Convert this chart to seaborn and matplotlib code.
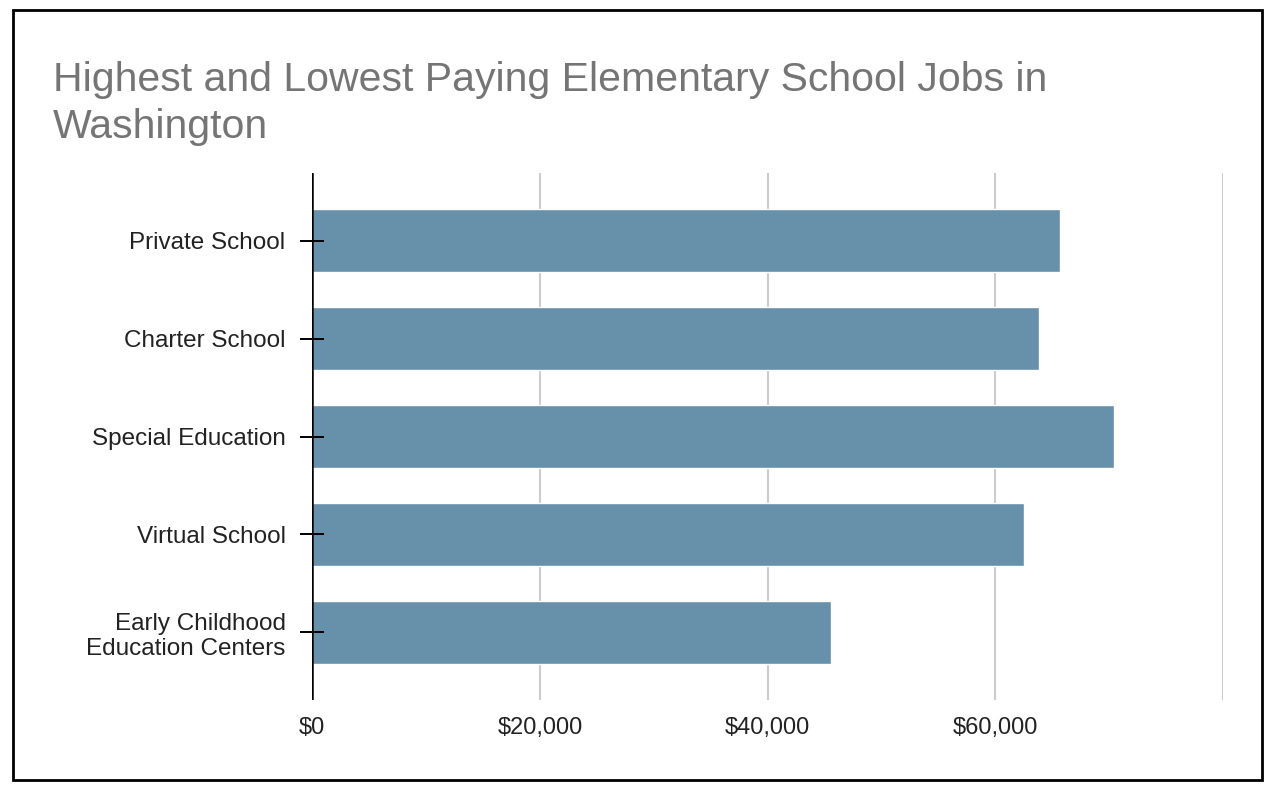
import matplotlib
matplotlib.use("Agg")
import matplotlib.pyplot as plt
from matplotlib.patches import Rectangle
from matplotlib.ticker import FixedLocator
import seaborn as sns
import pandas as pd

categories = ["Private School", "Charter School", "Special Education",
              "Virtual School", "Early Childhood\nEducation Centers"]
salaries = [65700, 63850, 70450, 62550, 45600]
xticks = [0, 20000, 40000, 60000, 80000]
xtick_labels = ["$0", "$20,000", "$40,000", "$60,000", ""]
title = "Highest and Lowest Paying Elementary School Jobs in\nWashington"

sns.set_theme(style="white")
plt.rcParams["font.family"] = ["Liberation Sans", "DejaVu Sans"]

df = pd.DataFrame({"category": categories, "salary": salaries})

fig = plt.figure(figsize=(12.72, 7.92), dpi=100)
ax = fig.add_axes([312.3 / 1272, 1 - 700 / 792, (1223 - 312.3) / 1272, (700 - 173) / 792])

sns.barplot(data=df, x="salary", y="category", orient="h", color="#6790ab",
            width=0.65, saturation=1, ax=ax, zorder=3)

ax.set_xlim(0, 80000)
ax.set_ylim(4.69, -0.69)
ax.xaxis.set_major_locator(FixedLocator(xticks))
ax.set_xticklabels(xtick_labels)
ax.grid(axis="x", color="#cccccc", linewidth=1.5, zorder=0)
ax.grid(axis="y", visible=False)
ax.axvline(0, color="black", linewidth=1.8, zorder=4)

for s in ax.spines.values():
    s.set_visible(False)

ax.set_xlabel("")
ax.set_ylabel("")
ax.tick_params(axis="x", bottom=False, length=0, pad=12, labelsize=17, labelcolor="#222222")
ax.tick_params(axis="y", left=True, direction="inout", length=17.5, width=1.4, color="black",
               pad=10.5, labelsize=17.5, labelcolor="#222222")
ax.yaxis.set_zorder(5)
for t in ax.get_yticklabels():
    t.set_linespacing(1.2)

fig.text(53 / 1272, 1 - 61 / 792, title, ha="left", va="top", fontsize=29.5,
         color="#757575", linespacing=1.3)

fig.patches.append(Rectangle((13 / 1272, 1 - 780 / 792), (1262 - 13) / 1272, (780 - 10) / 792,
                             transform=fig.transFigure, fill=False, edgecolor="black",
                             linewidth=2, zorder=10))

fig.savefig("out.png", dpi=100, facecolor="white")
